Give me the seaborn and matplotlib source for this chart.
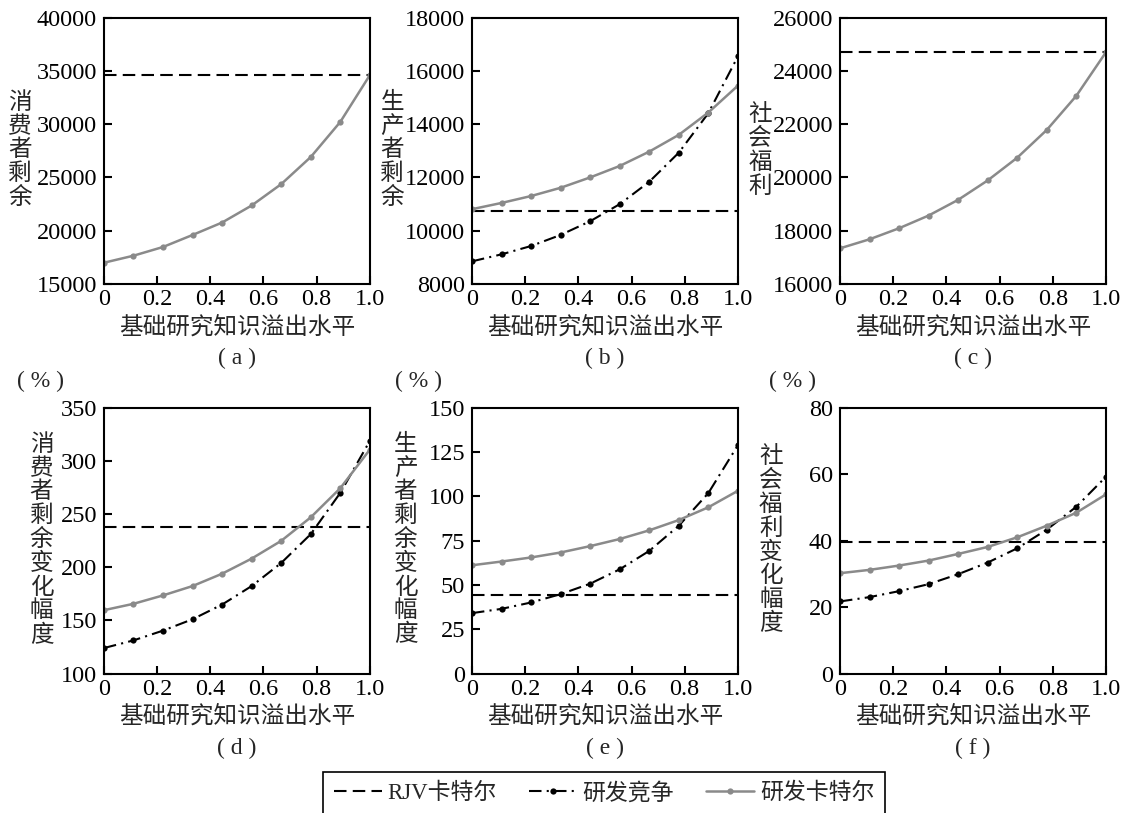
import numpy as np
import matplotlib
matplotlib.use("Agg")
import matplotlib.pyplot as plt
import seaborn as sns
from matplotlib.lines import Line2D

sns.set_style("white")
plt.rcParams["font.family"] = ["Liberation Serif", "Noto Sans CJK SC", "DejaVu Sans"]

# spillover level: 10 points from 0 to 1
spill = [0, 1/9, 2/9, 3/9, 4/9, 5/9, 6/9, 7/9, 8/9, 1.0]

# (a) consumer surplus
cs_cartel = [16980, 17640, 18460, 19590, 20760, 22360, 24370, 26920, 30220, 34620]
cs_rjv = 34620
# (b) producer surplus
ps_cartel = [10805, 11040, 11300, 11610, 12000, 12430, 12970, 13600, 14440, 15450]
ps_comp = [8843, 9107, 9420, 9836, 10352, 10994, 11836, 12930, 14415, 16550]
ps_rjv = 10742
# (c) social welfare
sw_cartel = [17333, 17673, 18088, 18566, 19157, 19887, 20742, 21786, 23069, 24704]
sw_rjv = 24704
# (d) consumer surplus change (%)
csc_cartel = [159.6, 165.6, 173.5, 182.3, 193.9, 208.1, 224.8, 246.9, 274.3, 310.6]
csc_comp = [124.0, 131.2, 140.4, 151.1, 164.9, 182.3, 204.0, 231.1, 269.9, 318.8]
csc_rjv = 238.1
# (e) producer surplus change (%)
psc_cartel = [61.1, 63.2, 65.5, 68.3, 71.9, 75.9, 80.8, 86.6, 93.8, 103.1]
psc_comp = [34.1, 36.5, 40.1, 44.8, 50.7, 58.8, 69.2, 83.4, 101.8, 128.8]
psc_rjv = 44.6
# (f) social welfare change (%)
swc_cartel = [30.2, 31.2, 32.5, 34.0, 36.0, 38.1, 41.0, 44.5, 48.4, 53.9]
swc_comp = [21.7, 23.0, 24.8, 26.9, 29.9, 33.4, 37.7, 43.3, 50.2, 59.2]
swc_rjv = 39.6

x_ticks = [0, 0.2, 0.4, 0.6, 0.8, 1.0]
x_ticklabels = ["0", "0.2", "0.4", "0.6", "0.8", "1.0"]
xlabel = "基础研究知识溢出水平"
legend_labels = ["RJV卡特尔", "研发竞争", "研发卡特尔"]

panels = [
    ("( a )", "消费者剩余", cs_cartel, None, cs_rjv, [15000, 20000, 25000, 30000, 35000, 40000]),
    ("( b )", "生产者剩余", ps_cartel, ps_comp, ps_rjv, [8000, 10000, 12000, 14000, 16000, 18000]),
    ("( c )", "社会福利", sw_cartel, None, sw_rjv, [16000, 18000, 20000, 22000, 24000, 26000]),
    ("( d )", "消费者剩余变化幅度", csc_cartel, csc_comp, csc_rjv, [100, 150, 200, 250, 300, 350]),
    ("( e )", "生产者剩余变化幅度", psc_cartel, psc_comp, psc_rjv, [0, 25, 50, 75, 100, 125, 150]),
    ("( f )", "社会福利变化幅度", swc_cartel, swc_comp, swc_rjv, [0, 20, 40, 60, 80]),
]

gray = "#8a8a8a"
dash = (6, 3)
dashdot = (6, 2.5, 1, 2.5)
fs = 16

fig, axes = plt.subplots(2, 3, figsize=(11.25, 8.13), dpi=100)
plt.subplots_adjust(left=0.0924, right=0.983, top=0.978, bottom=0.1715,
                    wspace=0.384, hspace=0.466)

ylab_x = [-0.315, -0.30, -0.30, -0.235, -0.25, -0.26]
pct_x = [-0.24, -0.2, -0.18]

for i, (ax, (tag, ylab, cartel, comp, rjv, yticks)) in enumerate(zip(axes.flat, panels)):
    ax.axhline(rjv, color="black", lw=1.5, dashes=dash)
    if comp is not None:
        sns.lineplot(x=spill, y=comp, ax=ax, color="black", lw=1.5, dashes=False,
                     linestyle=(0, dashdot), marker="o", markersize=4.5,
                     markeredgewidth=0)
    sns.lineplot(x=spill, y=cartel, ax=ax, color=gray, lw=1.8,
                 marker="o", markersize=4.5, markeredgewidth=0)
    ax.set_xlim(0, 1)
    ax.set_ylim(yticks[0], yticks[-1])
    ax.set_xticks(x_ticks)
    ax.set_xticklabels(x_ticklabels)
    ax.set_yticks(yticks)
    ax.set_yticklabels([str(v) for v in yticks])
    ax.tick_params(direction="in", length=6, width=1.5, labelsize=fs + 1.5,
                   colors="black", bottom=True, left=True)
    ax.tick_params(axis="y", pad=5)
    ax.tick_params(axis="x", pad=4)
    for s in ax.spines.values():
        s.set_color("black")
        s.set_linewidth(1.5)
    ax.set_xlabel(xlabel, fontsize=fs + 1, labelpad=4)
    ax.set_ylabel("")
    ax.text(ylab_x[i], 0.5, "\n".join(ylab), transform=ax.transAxes,
            fontsize=fs + 1, ha="center", va="center", linespacing=1.12)
    ax.text(0.5, -0.28, tag, transform=ax.transAxes, fontsize=fs + 1, ha="center", va="center")
    if i >= 3:
        ax.text(pct_x[i - 3], 1.1, "( % )", transform=ax.transAxes, fontsize=fs + 1,
                ha="center", va="center")

handles = [
    Line2D([], [], color="black", lw=1.5, dashes=dash),
    Line2D([], [], color="black", lw=1.5, dashes=dashdot, marker="o", markersize=4.5,
           markeredgewidth=0),
    Line2D([], [], color=gray, lw=1.8, marker="o", markersize=4.5, markeredgewidth=0),
]
leg = fig.legend(handles, legend_labels, loc="center", bbox_to_anchor=(0.537, 0.024),
                 ncol=3, fontsize=fs + 0.5, frameon=True, fancybox=False,
                 edgecolor="black", framealpha=1, handlelength=2.1,
                 columnspacing=1.4, handletextpad=0.25, borderpad=0.45,
                 borderaxespad=0)
leg.get_frame().set_linewidth(1.2)

fig.savefig("out.png", dpi=100)
